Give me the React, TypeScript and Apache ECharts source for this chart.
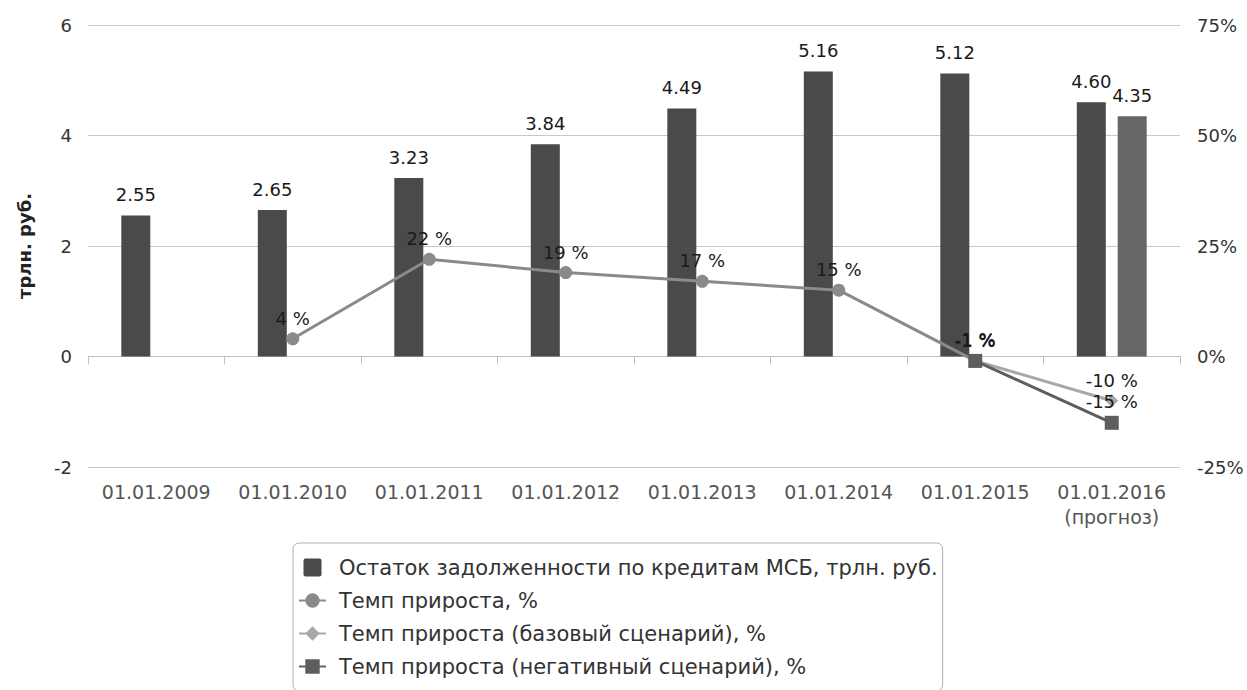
import React, { useEffect, useRef } from "react";
import * as echarts from "echarts";

const categories = [
  "01.01.2009",
  "01.01.2010",
  "01.01.2011",
  "01.01.2012",
  "01.01.2013",
  "01.01.2014",
  "01.01.2015",
  "01.01.2016\n(прогноз)",
];
const debtValues = [2.55, 2.65, 3.23, 3.84, 4.49, 5.16, 5.12, 4.6];
const debtForecastNegative = [null, null, null, null, null, null, null, 4.35];
const growthRate = [null, 4, 22, 19, 17, 15, -1, null];
const growthBase = [null, null, null, null, null, null, -1, -10];
const growthNegative = [null, null, null, null, null, null, -1, -15];
const leftTicks = { min: -2, max: 6, interval: 2 };
const rightTicks = { min: -25, max: 75, interval: 25 };

const NAME_BAR = "Остаток задолженности по кредитам МСБ, трлн. руб.";
const NAME_BAR2 = "Остаток задолженности (негативный сценарий), трлн. руб.";
const NAME_G = "Темп прироста, %";
const NAME_GB = "Темп прироста (базовый сценарий), %";
const NAME_GN = "Темп прироста (негативный сценарий), %";

const FONT = "DejaVu Sans";
const SQUARE_ICON =
  "path://M2,0h14a2,2,0,0,1,2,2v14a2,2,0,0,1,-2,2h-14a2,2,0,0,1,-2,-2v-14a2,2,0,0,1,2,-2z";

export default function App() {
  const ref = useRef<HTMLDivElement>(null);
  useEffect(() => {
    if (!ref.current) return;
    const chart = echarts.init(ref.current, null, { renderer: "svg" });
    const pctLabel = {
      show: true,
      position: "top",
      distance: 5,
      fontFamily: FONT,
      fontSize: 18,
      color: "#1a1a1a",
      formatter: (p: any) => `${p.value} %`,
    };
    const barLabel = {
      show: true,
      position: "top",
      distance: 12,
      fontFamily: FONT,
      fontSize: 18,
      color: "#1a1a1a",
      formatter: (p: any) => (p.value == null ? "" : Number(p.value).toFixed(2)),
    };
    chart.setOption({
      animation: false,
      textStyle: { fontFamily: FONT },
      grid: { left: 88, right: 67, top: 25, bottom: 223 },
      legend: {
        orient: "vertical",
        left: 293,
        top: 543,
        height: 300,
        data: [
          { name: NAME_BAR, icon: SQUARE_ICON },
          { name: NAME_G },
          { name: NAME_GB },
          { name: NAME_GN },
        ],
        symbolKeepAspect: true,
        itemWidth: 27,
        itemHeight: 18,
        itemGap: 12,
        padding: [14, 5, 14, 5],
        borderColor: "#b0b0b0",
        borderWidth: 1,
        borderRadius: 6,
        textStyle: {
          fontFamily: FONT,
          fontSize: 21,
          color: "#333",
          padding: [0, 0, 0, 8],
        },
      },
      xAxis: {
        type: "category",
        data: categories,
        axisLine: { lineStyle: { color: "#c0c0c0", width: 1 } },
        axisTick: { show: true, length: 8, lineStyle: { color: "#c0c0c0" } },
        axisLabel: {
          interval: 0,
          fontFamily: FONT,
          fontSize: 19,
          color: "#555",
          margin: 12,
          lineHeight: 25,
        },
      },
      yAxis: [
        {
          type: "value",
          ...leftTicks,
          name: "трлн. руб.",
          nameLocation: "middle",
          nameRotate: 90,
          nameGap: 55,
          nameTextStyle: { fontFamily: FONT, fontSize: 18, fontWeight: "bold", color: "#222" },
          axisLine: { show: false },
          axisTick: { show: false },
          axisLabel: { fontFamily: FONT, fontSize: 18, color: "#333", margin: 16 },
          splitLine: { show: true, lineStyle: { color: "#c8c8c8", width: 1 } },
        },
        {
          type: "value",
          ...rightTicks,
          axisLine: { show: false },
          axisTick: { show: false },
          axisLabel: {
            fontFamily: FONT,
            fontSize: 18,
            color: "#333",
            margin: 17,
            formatter: "{value}%",
          },
          splitLine: { show: false },
        },
      ],
      series: [
        {
          name: NAME_BAR,
          type: "bar",
          data: debtValues,
          barWidth: 29,
          barGap: "41%",
          itemStyle: { color: "#4a4a4a" },
          label: barLabel,
        },
        {
          name: NAME_BAR2,
          type: "bar",
          data: debtForecastNegative,
          barWidth: 29,
          barGap: "41%",
          itemStyle: { color: "#666666" },
          label: barLabel,
        },
        {
          name: NAME_G,
          type: "line",
          yAxisIndex: 1,
          data: growthRate,
          symbol: "circle",
          symbolSize: 13,
          lineStyle: { color: "#8a8a8a", width: 3 },
          itemStyle: { color: "#8a8a8a" },
          label: pctLabel,
        },
        {
          name: NAME_GB,
          type: "line",
          yAxisIndex: 1,
          data: growthBase,
          symbol: "diamond",
          symbolSize: 13,
          lineStyle: { color: "#a8a8a8", width: 3 },
          itemStyle: { color: "#a8a8a8" },
          label: pctLabel,
        },
        {
          name: NAME_GN,
          type: "line",
          yAxisIndex: 1,
          data: growthNegative,
          symbol: "rect",
          symbolSize: 14,
          lineStyle: { color: "#5e5e5e", width: 3 },
          itemStyle: { color: "#5e5e5e" },
          label: pctLabel,
        },
      ],
    });
    return () => chart.dispose();
  }, []);
  return (
    <div
      ref={ref}
      style={{ position: "fixed", left: 0, top: 0, width: 1247, height: 690, background: "#fff" }}
    />
  );
}
